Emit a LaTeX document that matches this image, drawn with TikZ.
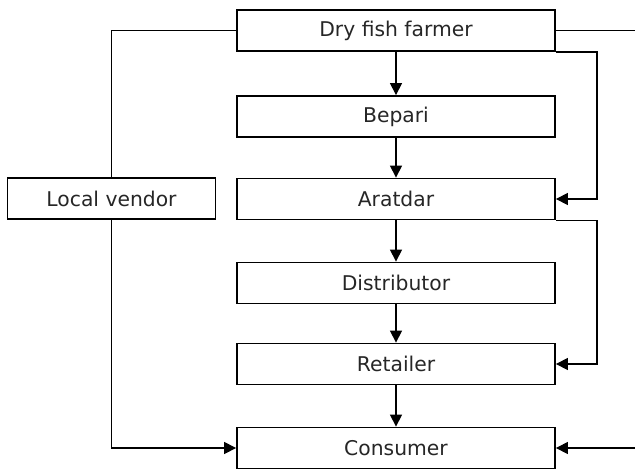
\documentclass[tikz,border=0pt]{standalone}
\usepackage{fontspec}
\setmainfont{DejaVu Sans}
\usetikzlibrary{arrows.meta}
\begin{document}
\begin{tikzpicture}[x=1pt,y=-1pt,
  box/.style={draw, line width=1.8pt, minimum width=318pt, minimum height=41pt, inner sep=0pt,
    font=\fontsize{20.3}{24}\selectfont, text=black!85},
  conn/.style={line width=1.2pt},
  arr/.style={conn, -{Triangle[length=12pt,width=12pt]}}]
\useasboundingbox (0,0) rectangle (635,469);
\node[box] (dff) at (396,30.5) {Dry fish farmer};
\node[box] (bep) at (396,116.5) {Bepari};
\node[box] (ara) at (396,199) {Aratdar};
\node[box] (dis) at (396,283) {Distributor};
\node[box] (ret) at (396,364) {Retailer};
\node[box] (con) at (396,448) {Consumer};
\node[box, minimum width=208pt] (lv) at (111.5,198.5) {Local vendor};
\coordinate (xr) at (597,0);
\coordinate (e1) at (635,30.5);
\coordinate (e2) at (635,448);
\draw[arr] (dff) -- (bep);
\draw[arr] (bep) -- (ara);
\draw[arr] (ara) -- (dis);
\draw[arr] (dis) -- (ret);
\draw[arr] (ret) -- (con);
\draw[conn] (dff.west) -| (lv.north);
\draw[arr] (lv.south) |- (con.west);
\draw[conn] (dff.east) -- (e1);
\draw[arr] (dff.south east) -- (dff.south east -| xr) |- (ara.east);
\draw[arr] (ara.south east) -- (ara.south east -| xr) |- (ret.east);
\draw[arr] (e2) -- (con.east);
\end{tikzpicture}
\end{document}
